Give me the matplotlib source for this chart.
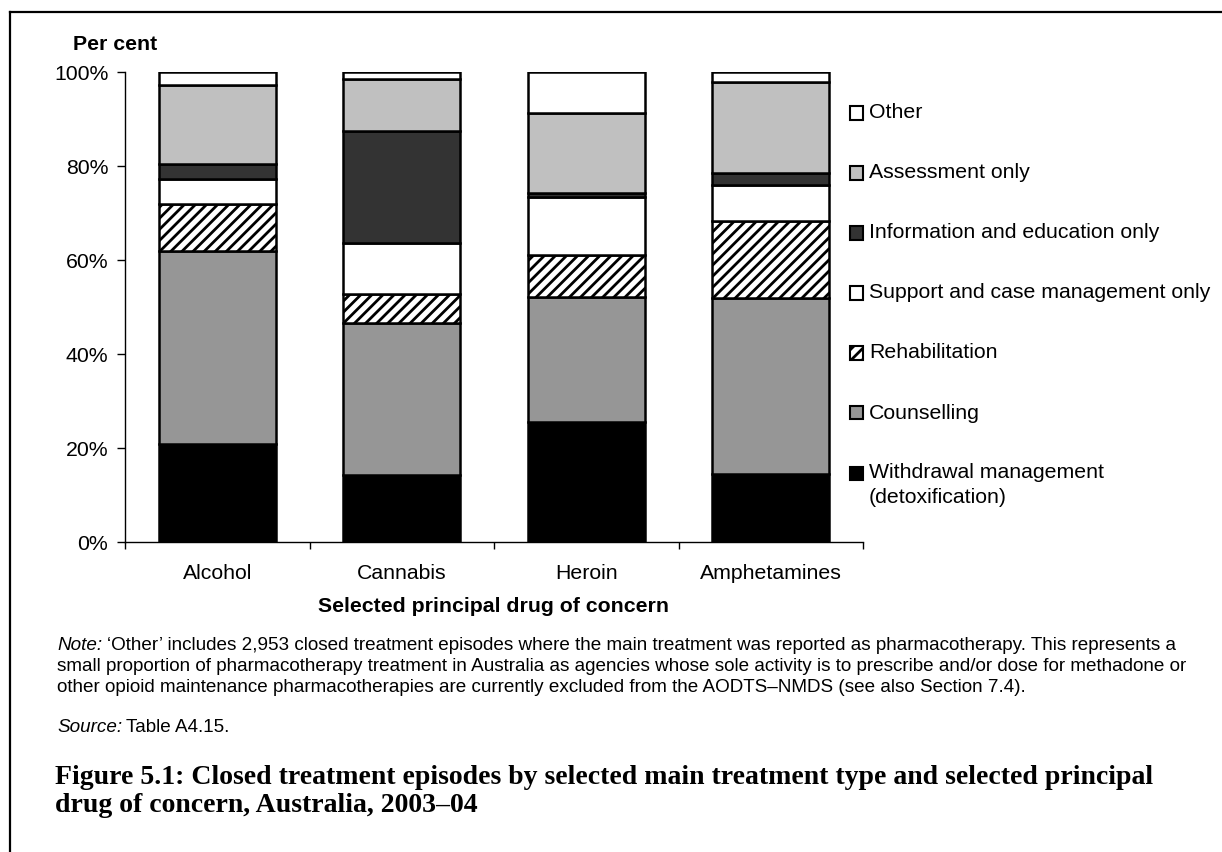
import matplotlib
matplotlib.use("Agg")
import matplotlib.pyplot as plt
from matplotlib.patches import Rectangle
from matplotlib.lines import Line2D
from matplotlib.ticker import FixedLocator, NullFormatter, FixedFormatter

plt.rcParams["font.family"] = ["Liberation Sans", "DejaVu Sans"]
plt.rcParams["hatch.linewidth"] = 2.0
plt.rcParams["hatch.color"] = "black"

# ---- data -------------------------------------------------------------
drugs = ["Alcohol", "Cannabis", "Heroin", "Amphetamines"]

# per cent of closed episodes, stacked bottom to top
withdrawal = [20.8, 14.3, 25.6, 14.4]
counselling = [41.1, 32.4, 26.6, 37.6]
rehabilitation = [10.0, 6.1, 8.9, 16.4]
support = [5.3, 10.8, 12.4, 7.6]
information = [3.2, 23.8, 0.7, 2.6]
assessment = [16.8, 11.2, 17.0, 19.2]
other = [2.8, 1.4, 8.8, 2.2]

series_labels = [
    "Withdrawal management\n(detoxification)",
    "Counselling",
    "Rehabilitation",
    "Support and case management only",
    "Information and education only",
    "Assessment only",
    "Other",
]
ytick_labels = ["0%", "20%", "40%", "60%", "80%", "100%"]

# ---- styling ----------------------------------------------------------
series = [withdrawal, counselling, rehabilitation, support, information, assessment, other]
faces = ["#000000", "#969696", "white", "white", "#333333", "#c0c0c0", "white"]
hatches = [None, None, "///", None, None, None, None]

W, H = 1222, 852
fig = plt.figure(figsize=(W / 100, H / 100), dpi=100)


def fx(x):
    return x / W


def fy(y):
    return 1 - y / H


# plot area
x0, x1, ytop, ybot = 125, 863, 72, 542
ax = fig.add_axes([fx(x0), fy(ybot), (x1 - x0) / W, (ybot - ytop) / H])

pos = list(range(len(drugs)))
bottom = [0.0] * len(drugs)
for vals, fc, ht in zip(series, faces, hatches):
    ax.bar(pos, vals, width=0.634, bottom=bottom, color=fc, hatch=ht,
           edgecolor="black", linewidth=1.8, zorder=3)
    bottom = [b + v for b, v in zip(bottom, vals)]

ax.set_xlim(-0.5, len(drugs) - 0.5)
ax.set_ylim(0, 100)
ax.set_yticks([0, 20, 40, 60, 80, 100])
ax.set_yticklabels(ytick_labels)
ax.tick_params(axis="y", length=6, width=1, pad=6, labelsize=15.3, direction="out")

# category boundaries as major ticks, names on minor ticks
ax.xaxis.set_major_locator(FixedLocator([i - 0.5 for i in range(len(drugs) + 1)]))
ax.xaxis.set_major_formatter(NullFormatter())
ax.xaxis.set_minor_locator(FixedLocator(pos))
ax.xaxis.set_minor_formatter(FixedFormatter(drugs))
ax.tick_params(axis="x", which="major", length=5, width=1, direction="out")
ax.tick_params(axis="x", which="minor", length=0, pad=16, labelsize=15.3)

for s in ("top", "right"):
    ax.spines[s].set_visible(False)
for s in ("left", "bottom"):
    ax.spines[s].set_linewidth(1.0)

ax.set_xlabel("Selected principal drug of concern", fontsize=15.3,
              fontweight="bold", labelpad=10)

fig.text(fx(73), fy(45), "Per cent", fontsize=15.3, fontweight="bold",
         ha="left", va="center")

# ---- legend (top entry = top of stack) ------------------------------------
leg_y = [473, 413, 353, 293, 233, 173, 113]
box = 13
for lab, fc, ht, yc in zip(series_labels, faces, hatches, leg_y):
    fig.add_artist(Rectangle((fx(850), fy(yc + box / 2)), box / W, box / H,
                             facecolor=fc, hatch=ht, edgecolor="black",
                             linewidth=1.5, transform=fig.transFigure))
    lines = lab.split("\n")
    for k, ln in enumerate(lines):
        fig.text(fx(869), fy(yc + 24 * k), ln, fontsize=15.3,
                 ha="left", va="center")

# ---- note, source and caption -----------------------------------------
renderer = fig.canvas.get_renderer()
left = 57


def fit_size(text, family, weight, target_px, start=12.0):
    t = fig.text(0, 0, text, fontsize=start, family=family, fontweight=weight)
    w = t.get_window_extent(renderer=renderer).width
    t.remove()
    return start * target_px / w


note_lines = [
    "\u2018Other\u2019 includes 2,953 closed treatment episodes where the main treatment was reported as pharmacotherapy. This represents a",
    "small proportion of pharmacotherapy treatment in Australia as agencies whose sole activity is to prescribe and/or dose for methadone or",
    "other opioid maintenance pharmacotherapies are currently excluded from the AODTS\u2013NMDS (see also Section 7.4).",
]
note_fs = fit_size(note_lines[1], "Liberation Sans", "normal", 1140)
note_y = [646, 666.5, 687]

lead = fig.text(fx(left), fy(note_y[0]), "Note:", fontsize=note_fs,
                style="italic", ha="left", va="center")
lw_px = lead.get_window_extent(renderer=renderer).width
fig.text(fx(left + lw_px + 5), fy(note_y[0]), note_lines[0], fontsize=note_fs,
         ha="left", va="center")
for ln, yy in zip(note_lines[1:], note_y[1:]):
    fig.text(fx(left), fy(yy), ln, fontsize=note_fs, ha="left", va="center")

src = fig.text(fx(left), fy(728), "Source:", fontsize=note_fs, style="italic",
               ha="left", va="center")
sw = src.get_window_extent(renderer=renderer).width
fig.text(fx(left + sw + 4), fy(728), "Table A4.15.", fontsize=note_fs,
         ha="left", va="center")

cap1 = "Figure 5.1: Closed treatment episodes by selected main treatment type and selected principal"
cap2 = "drug of concern, Australia, 2003\u201304"
cap_family = "Liberation Serif"
cap_fs = fit_size(cap1, cap_family, "bold", 1090)
fig.text(fx(left - 2), fy(778), cap1, fontsize=cap_fs, family=cap_family,
         fontweight="bold", ha="left", va="center")
fig.text(fx(left - 2), fy(805), cap2, fontsize=cap_fs, family=cap_family,
         fontweight="bold", ha="left", va="center")

# page frame
fig.add_artist(Line2D([fx(10), 1.0], [fy(12), fy(12)], color="black",
                      linewidth=1.6, transform=fig.transFigure))
fig.add_artist(Line2D([fx(10), fx(10)], [fy(12), 0.0], color="black",
                      linewidth=1.6, transform=fig.transFigure))

fig.savefig("out.png", dpi=100)
